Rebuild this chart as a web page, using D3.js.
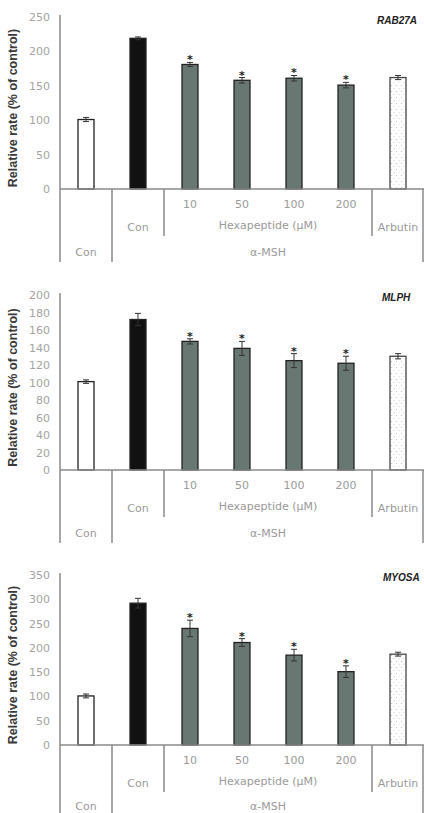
<!DOCTYPE html>
<html>
<head>
<meta charset="utf-8">
<script src="https://cdn.jsdelivr.net/npm/d3@7"></script>
<style>
  body { margin: 0; background: #fff; }
  text { font-family: "DejaVu Sans", sans-serif; }
</style>
</head>
<body>
<div id="chart"></div>
<script>
// Data
const categories = ['Con', 'Con', '10', '50', '100', '200', 'Arbutin']
const barKind = ['white', 'black', 'gray', 'gray', 'gray', 'gray', 'dots']
const significant = [false, false, true, true, true, true, false]

const rab27aMean = [101, 219, 181, 158, 161, 151, 162]
const rab27aErr = [3, 2, 3, 4, 4, 4, 3]
const rab27aTicks = [0, 50, 100, 150, 200, 250]

const mlphMean = [101, 172, 147, 139, 125, 122, 130]
const mlphErr = [2, 7, 3, 8, 8, 8, 3]
const mlphTicks = [0, 20, 40, 60, 80, 100, 120, 140, 160, 180, 200]

const myo5aMean = [101, 292, 240, 211, 185, 151, 187]
const myo5aErr = [4, 10, 17, 8, 12, 12, 4]
const myo5aTicks = [0, 50, 100, 150, 200, 250, 300, 350]

const yTitle = 'Relative rate (% of control)'
const hexaLabel = 'Hexapeptide  (\u03bcM)'
const mshLabel = '\u03b1-MSH'

function draw() {
  const dimensions = { width: 424, height: 813, left: 60, right: 424, barWidth: 16 }

  const svg = d3.select('#chart')
    .append('svg')
    .attr('width', dimensions.width)
    .attr('height', dimensions.height)

  // pattern for arbutin bar
  const pat = svg.append('defs').append('pattern')
    .attr('id', 'dots')
    .attr('width', 5).attr('height', 6)
    .attr('patternUnits', 'userSpaceOnUse')
  pat.append('rect').attr('width', 5).attr('height', 6).attr('fill', '#fff')
  pat.append('circle').attr('cx', 1.5).attr('cy', 1.5).attr('r', 0.6).attr('fill', '#bbb')
  pat.append('circle').attr('cx', 4).attr('cy', 4.5).attr('r', 0.5).attr('fill', '#ccc')

  const fills = { white: '#fff', black: '#111', gray: '#697773', dots: 'url(#dots)' }

  const xScale = d3.scaleBand()
    .domain(d3.range(categories.length))
    .range([dimensions.left, dimensions.right])
    .padding(0)

  const panels = [
    { gene: 'RAB27A', mean: rab27aMean, err: rab27aErr, ticks: rab27aTicks, top: 17, base: 189, geneX: 377, geneY: 24 },
    { gene: 'MLPH', mean: mlphMean, err: mlphErr, ticks: mlphTicks, top: 295, base: 470, geneX: 382, geneY: 301 },
    { gene: 'MYOSA', mean: myo5aMean, err: myo5aErr, ticks: myo5aTicks, top: 575, base: 745, geneX: 383, geneY: 581 }
  ]

  panels.forEach(p => {
    const g = svg.append('g')
    const yScale = d3.scaleLinear()
      .domain([0, d3.max(p.ticks)])
      .range([p.base, p.top])

    // y axis labels
    const yAxis = d3.axisLeft(yScale)
      .tickValues(p.ticks)
      .tickSize(0)
      .tickPadding(10)
    const ax = g.append('g')
      .attr('transform', `translate(${dimensions.left},0)`)
      .call(yAxis)
    ax.select('.domain').remove()
    ax.selectAll('text')
      .attr('fill', '#a3a3a3')
      .style('font-family', '"DejaVu Sans", sans-serif')
      .style('font-size', '11px')

    // axis title
    g.append('text')
      .attr('transform', `translate(17, ${(p.top + p.base + 10) / 2}) rotate(-90)`)
      .attr('text-anchor', 'middle')
      .style('font-family', '"Liberation Sans", Arial, sans-serif')
      .style('font-size', '12.5px')
      .style('font-weight', 'bold')
      .attr('fill', '#3a3a3a')
      .text(yTitle)

    // gene name
    g.append('text')
      .attr('x', p.geneX).attr('y', p.geneY)
      .style('font-family', '"Liberation Sans", Arial, sans-serif')
      .style('font-size', '10px')
      .style('font-weight', 'bold')
      .style('font-style', 'italic')
      .attr('fill', '#222')
      .text(p.gene)

    // bars
    const offset = (xScale.bandwidth() - dimensions.barWidth) / 2
    g.selectAll('rect.bar')
      .data(p.mean)
      .join('rect')
      .attr('class', 'bar')
      .attr('x', (d, i) => xScale(i) + offset)
      .attr('y', d => yScale(d))
      .attr('width', dimensions.barWidth)
      .attr('height', d => p.base - yScale(d))
      .attr('fill', (d, i) => fills[barKind[i]])
      .attr('stroke', (d, i) => barKind[i] === 'dots' ? '#444' : '#222')
      .attr('stroke-width', 1.3)

    // error bars
    const cx = i => xScale(i) + xScale.bandwidth() / 2
    const eg = g.selectAll('g.err')
      .data(p.mean)
      .join('g')
      .attr('class', 'err')
      .attr('stroke', '#333')
      .attr('stroke-width', 1)
    eg.append('line')
      .attr('x1', (d, i) => cx(i)).attr('x2', (d, i) => cx(i))
      .attr('y1', (d, i) => yScale(d + p.err[i]))
      .attr('y2', (d, i) => yScale(d - p.err[i]))
    eg.append('line')
      .attr('x1', (d, i) => cx(i) - 3).attr('x2', (d, i) => cx(i) + 3)
      .attr('y1', (d, i) => yScale(d + p.err[i]))
      .attr('y2', (d, i) => yScale(d + p.err[i]))
    eg.append('line')
      .attr('x1', (d, i) => cx(i) - 3).attr('x2', (d, i) => cx(i) + 3)
      .attr('y1', (d, i) => yScale(d - p.err[i]))
      .attr('y2', (d, i) => yScale(d - p.err[i]))

    // stars
    g.selectAll('text.star')
      .data(p.mean.map((d, i) => ({ d, i })).filter(o => significant[o.i]))
      .join('text')
      .attr('class', 'star')
      .attr('x', o => cx(o.i))
      .attr('y', o => yScale(o.d + p.err[o.i]) + 1)
      .attr('text-anchor', 'middle')
      .style('font-size', '11px')
      .style('font-weight', 'bold')
      .attr('fill', '#222')
      .text('*')

    // category table
    const lineColor = '#8a8a8a'
    const edge = i => xScale(i)
    const tbl = g.append('g').attr('stroke', lineColor).attr('stroke-width', 1.5)
    tbl.append('line')
      .attr('x1', dimensions.left).attr('x2', dimensions.right)
      .attr('y1', p.base).attr('y2', p.base)
    tbl.append('line')
      .attr('x1', dimensions.left).attr('x2', dimensions.left)
      .attr('y1', p.top - 2).attr('y2', p.base + 73)
    tbl.append('line')
      .attr('x1', edge(1)).attr('x2', edge(1))
      .attr('y1', p.base).attr('y2', p.base + 73)
    tbl.append('line')
      .attr('x1', dimensions.right - 1).attr('x2', dimensions.right - 1)
      .attr('y1', p.base).attr('y2', p.base + 73)
    ;[2, 6].forEach(i => {
      tbl.append('line')
        .attr('x1', edge(i)).attr('x2', edge(i))
        .attr('y1', p.base).attr('y2', p.base + 47)
    })

    const label = (x, y, t) => g.append('text')
      .attr('x', x).attr('y', y)
      .attr('text-anchor', 'middle')
      .attr('fill', '#9a9a9a')
      .style('font-size', '11px')
      .text(t)

    // keep the last row inside the picture
    const bottomRow = Math.min(p.base + 67, dimensions.height - 3)
    label(cx(0), bottomRow, categories[0])
    label(cx(1), p.base + 42, categories[1])
    ;[2, 3, 4, 5].forEach(i => label(cx(i), p.base + 19, categories[i]))
    label(cx(6), p.base + 42, categories[6])
    label((edge(2) + edge(6)) / 2, p.base + 40, hexaLabel)
    label((edge(1) + dimensions.right) / 2, bottomRow, mshLabel)
  })
}

draw()
</script>
</body>
</html>
